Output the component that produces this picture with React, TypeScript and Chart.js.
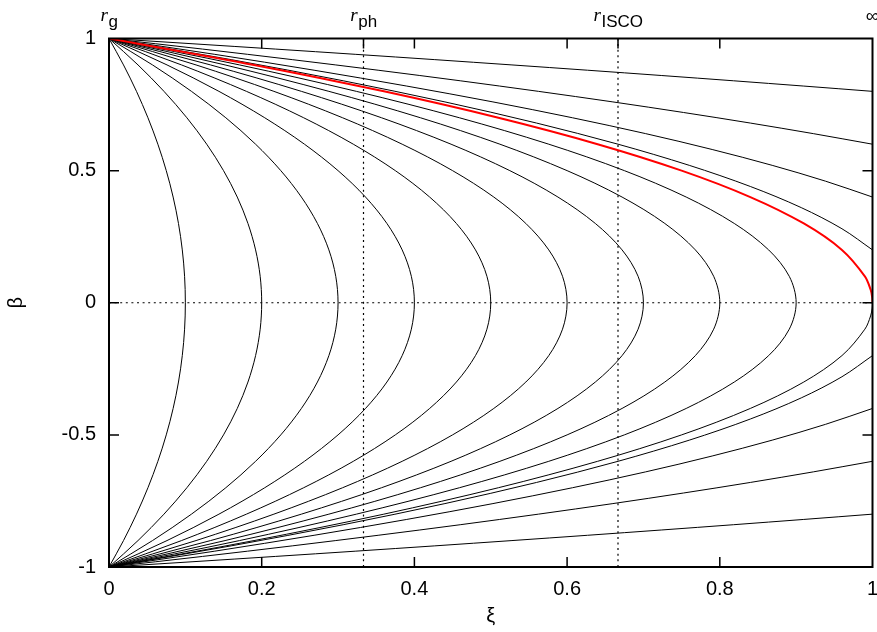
import { useEffect, useRef } from "react";
import { Chart, registerables } from "chart.js";

Chart.register(...registerables);

// β samples along the upper half of each closed curve (down to the turning point at β = 0)
const betaBound = [1, 0.9, 0.8, 0.7, 0.6, 0.5, 0.4, 0.3, 0.2, 0.1, 0];

// ξ along each closed curve at the β samples above; the curves turn back at ξ = 0.1 … 0.9
const xiBound01 = [0, 0.019, 0.036, 0.051, 0.064, 0.075, 0.084, 0.091, 0.096, 0.099, 0.1];
const xiBound02 = [0, 0.038, 0.072, 0.102, 0.128, 0.15, 0.168, 0.182, 0.192, 0.198, 0.2];
const xiBound03 = [0, 0.057, 0.108, 0.153, 0.192, 0.225, 0.252, 0.273, 0.288, 0.297, 0.3];
const xiBound04 = [0, 0.076, 0.144, 0.204, 0.256, 0.3, 0.336, 0.364, 0.384, 0.396, 0.4];
const xiBound05 = [0, 0.095, 0.18, 0.255, 0.32, 0.375, 0.42, 0.455, 0.48, 0.495, 0.5];
const xiBound06 = [0, 0.114, 0.216, 0.306, 0.384, 0.45, 0.504, 0.546, 0.576, 0.594, 0.6];
const xiBound07 = [0, 0.133, 0.252, 0.357, 0.448, 0.525, 0.588, 0.637, 0.672, 0.693, 0.7];
const xiBound08 = [0, 0.152, 0.288, 0.408, 0.512, 0.6, 0.672, 0.728, 0.768, 0.792, 0.8];
const xiBound09 = [0, 0.171, 0.324, 0.459, 0.576, 0.675, 0.756, 0.819, 0.864, 0.891, 0.9];

// marginal curve reaching ξ = 1 with β = 0 (upper half drawn in red); sampled finer near ξ = 1
const betaMarginal = [1, 0.9, 0.8, 0.7, 0.6, 0.5, 0.4, 0.3, 0.2, 0.1, 0.05, 0.02, 0];
const xiMarginal = [0, 0.19, 0.36, 0.51, 0.64, 0.75, 0.84, 0.91, 0.96, 0.99, 0.9975, 0.9996, 1];

// open curves reaching ξ = 1 with |β| = 0.8, 0.6, 0.4, 0.2
const betaOpen08 = [1, 0.98, 0.96, 0.94, 0.92, 0.9, 0.88, 0.86, 0.84, 0.82, 0.8];
const xiOpen08 = [0, 0.11, 0.2178, 0.3233, 0.4267, 0.5278, 0.6267, 0.7233, 0.8178, 0.91, 1];
const betaOpen06 = [1, 0.96, 0.92, 0.88, 0.84, 0.8, 0.76, 0.72, 0.68, 0.64, 0.6];
const xiOpen06 = [0, 0.1225, 0.24, 0.3525, 0.46, 0.5625, 0.66, 0.7525, 0.84, 0.9225, 1];
const betaOpen04 = [1, 0.94, 0.88, 0.82, 0.76, 0.7, 0.64, 0.58, 0.52, 0.46, 0.4];
const xiOpen04 = [0, 0.1386, 0.2686, 0.39, 0.5029, 0.6071, 0.7029, 0.79, 0.8686, 0.9386, 1];
const betaOpen02 = [1, 0.92, 0.84, 0.76, 0.68, 0.6, 0.52, 0.44, 0.36, 0.28, 0.2];
const xiOpen02 = [0, 0.16, 0.3067, 0.44, 0.56, 0.6667, 0.76, 0.84, 0.9067, 0.96, 1];

// axis ticks
const xTickValues = [0, 0.2, 0.4, 0.6, 0.8, 1];
const yTickValues = [-1, -0.5, 0, 0.5, 1];

// characteristic radii marked along the top edge
const radiusValues = [0, 1 / 3, 2 / 3];
const radiusSubscripts = ["g", "ph", "ISCO"];
const infinityValue = 1;

type Pt = { x: number; y: number };

const upper = (betas: number[], xis: number[]): Pt[] =>
  betas.map((b, i) => ({ x: xis[i], y: b }));
const lower = (betas: number[], xis: number[]): Pt[] =>
  betas.map((b, i) => ({ x: xis[i], y: -b }));
const closed = (betas: number[], xis: number[]): Pt[] => {
  const top = upper(betas, xis);
  const bottom = lower(betas, xis).reverse().slice(1);
  return [...top, ...bottom];
};

const SANS = "'Liberation Sans', Arial, sans-serif";
const SERIF = "'Liberation Serif', 'Times New Roman', serif";

const lineDs = (data: Pt[], color = "#000000", width = 1, order = 1) => ({
  data,
  showLine: true,
  borderColor: color,
  backgroundColor: color,
  borderWidth: width,
  pointRadius: 0,
  pointHoverRadius: 0,
  tension: 0.33,
  fill: false,
  order,
});

const decorPlugin = {
  id: "decor",
  beforeDatasetsDraw(chart: any) {
    const { ctx, chartArea: a, scales } = chart;
    const xs = scales.x;
    const ys = scales.y;
    ctx.save();
    ctx.strokeStyle = "#000000";
    ctx.lineWidth = 1.2;
    ctx.setLineDash([2, 3.6]);
    ctx.beginPath();
    for (const v of radiusValues.slice(1)) {
      const px = xs.getPixelForValue(v);
      ctx.moveTo(px, a.top);
      ctx.lineTo(px, a.bottom);
    }
    const y0 = ys.getPixelForValue(0);
    ctx.moveTo(a.left, y0);
    ctx.lineTo(a.right, y0);
    ctx.stroke();
    ctx.restore();
  },
  afterDatasetsDraw(chart: any) {
    const { ctx, chartArea: a, scales } = chart;
    const xs = scales.x;
    const ys = scales.y;
    const tl = 10;
    ctx.save();
    ctx.strokeStyle = "#000000";
    ctx.setLineDash([]);
    ctx.lineWidth = 1.5;
    ctx.beginPath();
    const inner = xTickValues.slice(1, -1);
    for (const v of inner) {
      const px = xs.getPixelForValue(v);
      ctx.moveTo(px, a.bottom);
      ctx.lineTo(px, a.bottom - tl);
      ctx.moveTo(px, a.top);
      ctx.lineTo(px, a.top + tl);
    }
    for (const v of radiusValues.slice(1)) {
      const px = xs.getPixelForValue(v);
      ctx.moveTo(px, a.top);
      ctx.lineTo(px, a.top + tl);
    }
    for (const v of yTickValues.slice(1, -1)) {
      const py = ys.getPixelForValue(v);
      ctx.moveTo(a.left, py);
      ctx.lineTo(a.left + tl, py);
      ctx.moveTo(a.right, py);
      ctx.lineTo(a.right - tl, py);
    }
    ctx.stroke();
    ctx.lineWidth = 2;
    ctx.strokeRect(a.left, a.top, a.right - a.left, a.bottom - a.top);
    ctx.restore();
  },
  afterDraw(chart: any) {
    const { ctx, scales } = chart;
    const xs = scales.x;
    ctx.save();
    ctx.fillStyle = "#000000";
    ctx.textBaseline = "alphabetic";
    ctx.textAlign = "left";
    const mainFont = `italic 19px ${SERIF}`;
    const subFont = `17px ${SANS}`;
    radiusValues.forEach((v, i) => {
      const px = xs.getPixelForValue(v);
      ctx.font = mainFont;
      const wr = ctx.measureText("r").width;
      ctx.font = subFont;
      const ws = ctx.measureText(radiusSubscripts[i]).width;
      const start = px - (wr + ws) / 2;
      ctx.font = mainFont;
      ctx.fillText("r", start, 21);
      ctx.font = subFont;
      ctx.fillText(radiusSubscripts[i], start + wr + 0.5, 27);
    });
    ctx.font = `19px ${SANS}`;
    ctx.textAlign = "center";
    ctx.fillText("\u221e", xs.getPixelForValue(infinityValue), 22);
    ctx.restore();
  },
};

const plainLabel = (v: any) => String(v);

export default function App() {
  const canvasRef = useRef<HTMLCanvasElement | null>(null);

  useEffect(() => {
    if (!canvasRef.current) return;
    const closedCurves = [
      xiBound01, xiBound02, xiBound03, xiBound04, xiBound05,
      xiBound06, xiBound07, xiBound08, xiBound09,
    ].map((xi) => lineDs(closed(betaBound, xi)));
    const openCurves = [
      [betaOpen08, xiOpen08],
      [betaOpen06, xiOpen06],
      [betaOpen04, xiOpen04],
      [betaOpen02, xiOpen02],
    ].flatMap(([b, xi]) => [lineDs(upper(b, xi)), lineDs(lower(b, xi))]);

    const chart = new Chart(canvasRef.current, {
      type: "scatter",
      data: {
        datasets: [
          lineDs(upper(betaMarginal, xiMarginal), "#ff0000", 2, 0),
          lineDs(lower(betaMarginal, xiMarginal).reverse()),
          ...closedCurves,
          ...openCurves,
        ] as any,
      },
      options: {
        animation: false,
        responsive: false,
        devicePixelRatio: 1,
        events: [],
        layout: { padding: { top: 38.5, right: 4.5, left: 0, bottom: 0 } },
        plugins: {
          legend: { display: false },
          tooltip: { enabled: false },
        },
        scales: {
          x: {
            type: "linear",
            min: 0,
            max: 1,
            afterFit: (s: any) => {
              s.height = 65;
              s.paddingLeft = 0;
              s.paddingRight = 0;
            },
            afterBuildTicks: (s: any) => {
              s.ticks = xTickValues.map((v) => ({ value: v }));
            },
            grid: { display: false, drawTicks: false, tickLength: 0 },
            border: { display: false },
            ticks: {
              color: "#000000",
              padding: 10,
              maxRotation: 0,
              autoSkip: false,
              callback: plainLabel,
              font: { family: SANS, size: 20 },
            },
            title: {
              display: true,
              text: "\u03be",
              color: "#000000",
              font: { family: SANS, size: 20 },
              padding: { top: 0, bottom: 4 },
            },
          },
          y: {
            type: "linear",
            min: -1,
            max: 1,
            afterFit: (s: any) => {
              s.width = 109;
              s.paddingTop = 0;
              s.paddingBottom = 0;
            },
            afterBuildTicks: (s: any) => {
              s.ticks = yTickValues.map((v) => ({ value: v }));
            },
            grid: { display: false, drawTicks: false, tickLength: 0 },
            border: { display: false },
            ticks: {
              color: "#000000",
              padding: 13,
              autoSkip: false,
              callback: plainLabel,
              font: { family: SANS, size: 20 },
            },
            title: {
              display: true,
              text: "\u03b2",
              color: "#000000",
              font: { family: SANS, size: 20 },
              padding: { top: 4, bottom: 0 },
            },
          },
        },
      },
      plugins: [decorPlugin],
    });
    return () => chart.destroy();
  }, []);

  return (
    <div style={{ position: "fixed", left: 0, top: 0, width: 877, height: 632, background: "#ffffff" }}>
      <canvas ref={canvasRef} width={877} height={632} style={{ display: "block" }} />
    </div>
  );
}
